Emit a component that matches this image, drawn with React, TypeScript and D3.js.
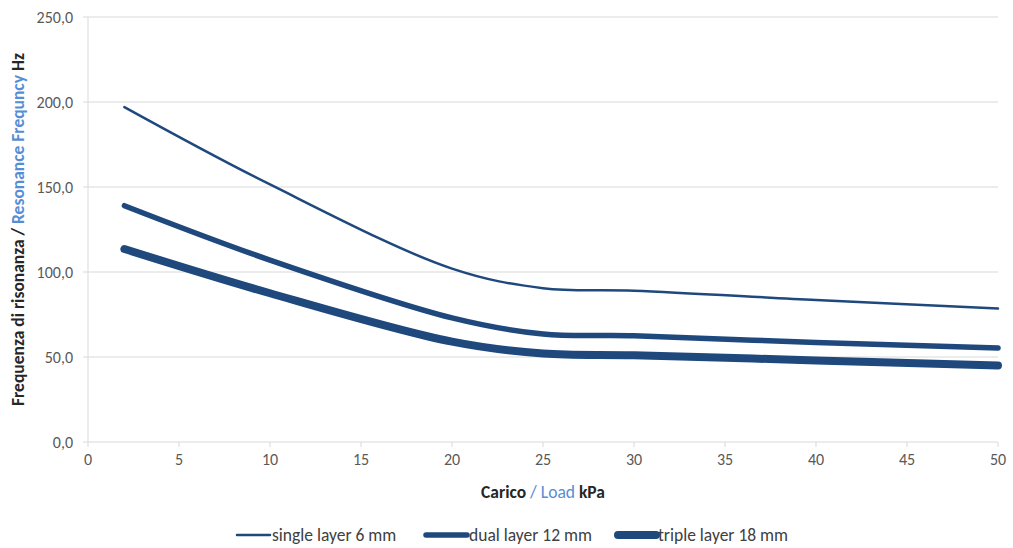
import React from 'react';
import * as d3 from 'd3';

// load in kPa
const loads = [2, 10, 20, 25, 30, 40, 50];
const singleLayer = [197, 151.5, 102, 90.5, 89, 83.5, 78.5];
const dualLayer = [139, 107, 73, 63.5, 62.5, 58.5, 55.3];
const tripleLayer = [113.5, 87.5, 59, 52, 51, 48, 45];

const xTicks = [0, 5, 10, 15, 20, 25, 30, 35, 40, 45, 50];
const yTicks = [0, 50, 100, 150, 200, 250];

const seriesNames = ['single layer 6 mm', 'dual layer 12 mm', 'triple layer 18 mm'];
const seriesValues = [singleLayer, dualLayer, tripleLayer];
const strokeWidths = [2.5, 5.5, 8];

const width = 1013;
const height = 548;
const margin = { top: 17, right: 15, bottom: 106, left: 88 };
const lineColor = '#1f497d';
const font = "Carlito, Calibri, 'Open Sans', sans-serif";

const App: React.FC = () => {
  const x = d3.scaleLinear().domain([0, 50]).range([margin.left, width - margin.right]);
  const y = d3.scaleLinear().domain([0, 250]).range([height - margin.bottom, margin.top]);
  const fmt = (v: number) => v.toFixed(1).replace('.', ',');

  const line = d3
    .line<number>()
    .x((_, i) => x(loads[i]))
    .y((d) => y(d))
    .curve(d3.curveCatmullRom.alpha(0.5));

  const x0 = x(0);
  const x1 = x(50);
  const yBottom = y(0);
  const midX = (x0 + x1) / 2;
  const midY = (y(0) + y(250)) / 2;

  // legend layout: sample start, sample length
  const legendItems = [
    { x: 237, len: 33 },
    { x: 426, len: 41 },
    { x: 618, len: 38 },
  ];

  return (
    <svg
      width={width}
      height={height}
      style={{ position: 'absolute', left: 0, top: 0, background: '#fff' }}
      fontFamily={font}
    >
      {/* gridlines */}
      {yTicks.map((t) => (
        <line key={'g' + t} x1={x0 - 5} x2={x1} y1={y(t)} y2={y(t)} stroke="#d9d9d9" strokeWidth={1} />
      ))}
      {/* y axis */}
      <line x1={x0} x2={x0} y1={y(250)} y2={yBottom} stroke="#d9d9d9" />
      {yTicks.map((t) => (
        <text key={'yl' + t} x={x0 - 15} y={y(t)} dy="0.35em" textAnchor="end" fontSize={16} fill="#595959">
          {fmt(t)}
        </text>
      ))}
      {/* x axis ticks */}
      {xTicks.map((t) => (
        <g key={'x' + t}>
          <line x1={x(t)} x2={x(t)} y1={yBottom} y2={yBottom + 5} stroke="#d9d9d9" />
          <text x={x(t)} y={yBottom + 23} textAnchor="middle" fontSize={16} fill="#595959">
            {t}
          </text>
        </g>
      ))}

      {/* series */}
      {seriesValues.map((vals, i) => (
        <path
          key={seriesNames[i]}
          d={line(vals) || ''}
          fill="none"
          stroke={lineColor}
          strokeWidth={strokeWidths[i]}
          strokeLinecap="round"
          strokeLinejoin="round"
        />
      ))}

      {/* axis titles */}
      <text x={midX} y={498} textAnchor="middle" fontSize={17.5} fontWeight="bold" fill="#262626">
        Carico <tspan fill="#558ed5" fontWeight="normal">/ Load</tspan> kPa
      </text>
      <text
        transform={`translate(24,${midY}) rotate(-90)`}
        textAnchor="middle"
        fontSize={17.5}
        fontWeight="bold"
        fill="#262626"
      >
        Frequenza di risonanza / <tspan fill="#558ed5">Resonance Frequncy</tspan> Hz
      </text>

      {/* legend */}
      {legendItems.map((item, i) => (
        <g key={'lg' + i}>
          <line
            x1={item.x}
            x2={item.x + item.len}
            y1={535}
            y2={535}
            stroke={lineColor}
            strokeWidth={strokeWidths[i]}
            strokeLinecap="round"
          />
          <text x={item.x + item.len + 2} y={535} dy="0.35em" fontSize={17.5} fill="#404040">
            {seriesNames[i]}
          </text>
        </g>
      ))}
    </svg>
  );
};

export default App;
